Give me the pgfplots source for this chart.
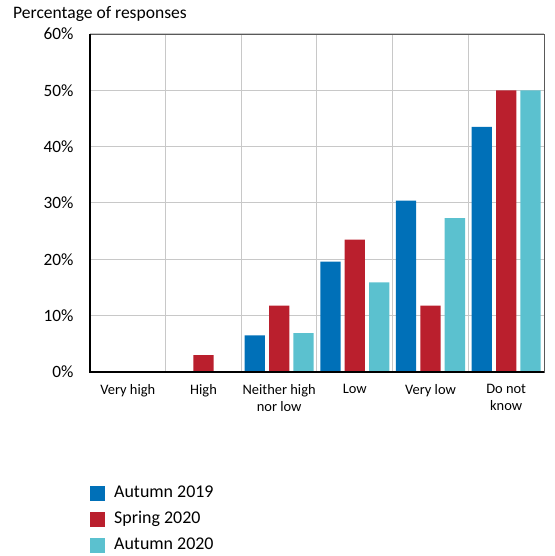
\documentclass[border=0pt]{standalone}
\usepackage{fontspec}
\setmainfont{Carlito}
\usepackage{pgfplots}
\pgfplotsset{compat=1.18}
\definecolor{cAut19}{HTML}{0070B8}
\definecolor{cSpr20}{HTML}{BA1F2D}
\definecolor{cAut20}{HTML}{5BC1CF}
\definecolor{gridc}{HTML}{C8C8C8}
\begin{document}
\begin{tikzpicture}
\path[use as bounding box] (0,0) rectangle (555bp,556bp);
\node[anchor=base west, inner sep=0pt, font=\fontsize{17.6}{20}\selectfont] at (13bp,537bp) {Percentage of responses};
\begin{axis}[
    at={(90bp,184bp)}, anchor=south west,
    scale only axis, width=454bp, height=338bp,
    ybar=4.1bp, bar width=20.3bp,
    xmin=-0.5, xmax=5.5, ymin=0, ymax=60,
    xtick={0,1,2,3,4,5},
    xticklabels={Very high, High, {Neither high\\nor low}, Low, Very low, {Do not\\know}},
    minor xtick={0.5,1.5,2.5,3.5,4.5},
    ytick={0,10,20,30,40,50,60},
    yticklabel={\pgfmathprintnumber{\tick}\%},
    /pgf/number format/assume math mode=true,
    major tick length=0pt, minor tick length=0pt,
    xminorgrids=true, ymajorgrids=true,
    minor grid style={gridc, line width=1bp},
    major grid style={gridc, line width=1bp},
    axis line style={gray!70!black, line width=0.8bp},
    xticklabel style={font=\fontsize{14.5}{17}\selectfont, align=center, yshift=-9bp},
    yticklabel style={font=\fontsize{17.3}{20}\selectfont, xshift=-13bp},
    legend style={draw=none, fill=none, at={(0,-0.333)}, anchor=north west,
        font=\fontsize{18}{20}\selectfont, inner sep=0pt,
        nodes={inner sep=0pt, text height=13bp, text depth=4bp},
        row sep=9bp, column sep=9bp},
    legend cell align=left,
    legend image code/.code={\fill[#1] (0bp,-7.5bp) rectangle (15bp,7.5bp);},
    after end axis/.code={
        \draw[black, line width=1.5bp] (rel axis cs:0,1) -- (rel axis cs:0,0) -- (rel axis cs:1,0);
    },
]
\addplot[fill=cAut19, draw=none] coordinates {(0,0) (1,0) (2,6.5) (3,19.6) (4,30.4) (5,43.5)};
\addplot[fill=cSpr20, draw=none] coordinates {(0,0) (1,3.0) (2,11.8) (3,23.5) (4,11.8) (5,50)};
\addplot[fill=cAut20, draw=none] coordinates {(0,0) (1,0) (2,6.9) (3,15.9) (4,27.3) (5,50)};
\legend{Autumn 2019, Spring 2020, Autumn 2020}
\end{axis}
\end{tikzpicture}
\end{document}
